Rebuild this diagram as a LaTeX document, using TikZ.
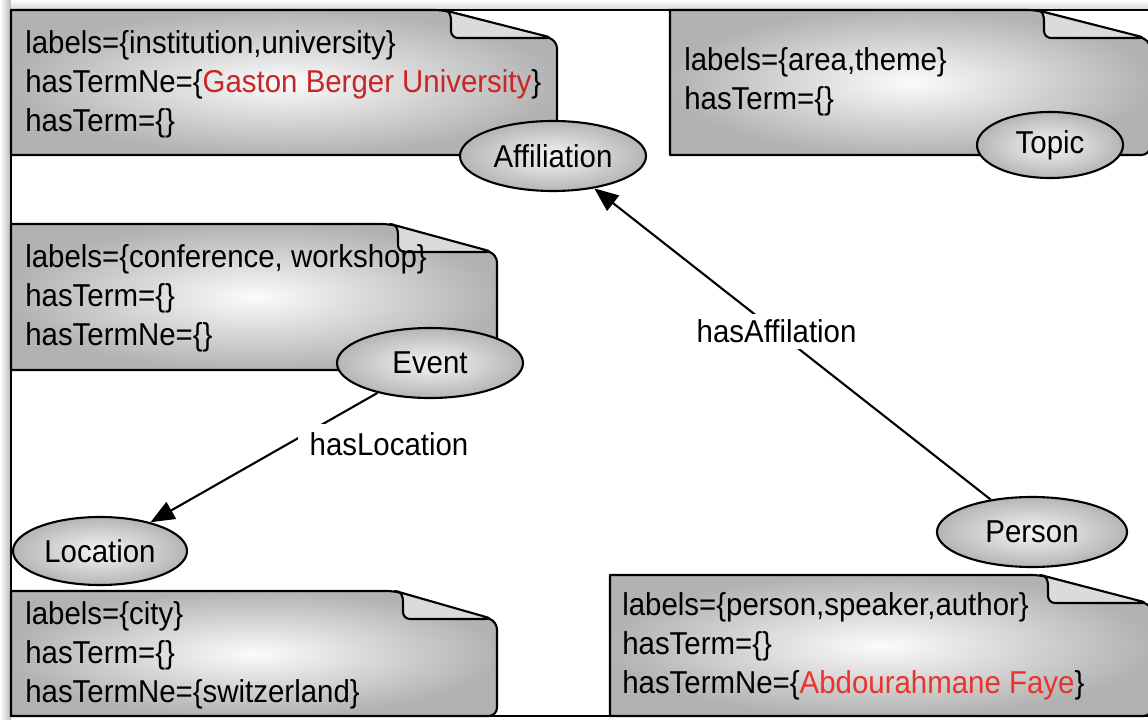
\documentclass[tikz,border=0pt]{standalone}
\usepackage{fontspec}
\setmainfont[FakeStretch=0.93]{Liberation Sans}
\usetikzlibrary{shapes.geometric,arrows.meta}

\definecolor{gbured}{RGB}{200,38,38}
\definecolor{afred}{RGB}{232,52,44}

\tikzset{
    note/.style={draw, line width=1.5pt, line join=round, inner color=gray!3, outer color=gray!60},
    flap/.style={draw, line width=1.5pt, line join=round, fill=gray!28},
    notetext/.style={anchor=west, align=left, inner sep=0pt, font=\fontsize{22.5}{27.8}\selectfont},
    concept/.style={ellipse, draw, line width=1.5pt, inner color=gray!8, outer color=gray!58,
        inner sep=0pt, font=\fontsize{22.5}{26}\selectfont},
    rel/.style={line width=1.5pt, -{Triangle[length=0.6cm,width=0.48cm]}},
    rellabel/.style={fill=white, inner sep=0.15cm, font=\fontsize{22.5}{26}\selectfont}
}

\begin{document}
\begin{tikzpicture}[x=0.025cm, y=-0.025cm]
    \useasboundingbox (0,0) rectangle (1148,720);
    \clip (0,0) rectangle (1148,720);
    % frame and its shadow
    \shade[left color=white, right color=gray!55] (0,0) rectangle (11,720);
    \shade[top color=white, bottom color=gray!35] (11,0) rectangle (1148,10);
    \draw[line width=1.7pt] (11,10) rectangle (1170,716);

    % notes
    \draw[note] (11,155) -- (11,10) [rounded corners=6pt] -- (443,10) -- (557,40) -- (557,155) [sharp corners] -- cycle;
    \path[flap] (443,10) .. controls (449,10) and (451,14) .. (451,22) [rounded corners=5pt] -- (451,38) -- (553,38) [sharp corners] -- cycle;
    \draw[note] (670,155) -- (670,10) [rounded corners=6pt] -- (1036,10) -- (1150,40) -- (1150,155) [sharp corners] -- cycle;
    \path[flap] (1036,10) .. controls (1042,10) and (1044,14) .. (1044,22) [rounded corners=5pt] -- (1044,38) -- (1146,38) [sharp corners] -- cycle;
    \draw[note] (11,370) -- (11,224) [rounded corners=6pt] -- (390,224) -- (497,254) -- (497,370) [sharp corners] -- cycle;
    \path[flap] (390,224) .. controls (396,224) and (398,228) .. (398,236) [rounded corners=5pt] -- (398,252) -- (493,252) [sharp corners] -- cycle;
    \draw[note] (11,716) -- (11,591) [rounded corners=6pt] -- (395,591) -- (497,621) -- (497,716) [sharp corners] -- cycle;
    \path[flap] (395,591) .. controls (401,591) and (403,595) .. (403,603) [rounded corners=5pt] -- (403,619) -- (493,619) [sharp corners] -- cycle;
    \draw[note] (610,716) -- (610,575) [rounded corners=6pt] -- (1040,575) -- (1152,605) -- (1152,716) [sharp corners] -- cycle;
    \path[flap] (1040,575) .. controls (1046,575) and (1048,579) .. (1048,587) [rounded corners=5pt] -- (1048,603) -- (1148,603) [sharp corners] -- cycle;

    \node[notetext] (afftext) at (25,84) {labels=\{institution,university\}\\hasTermNe=\{\textcolor{gbured}{Gaston Berger University}\}\\hasTerm=\{\}};
    \node[notetext] (toptext) at (684,82) {labels=\{area,theme\}\\hasTerm=\{\}};
    \node[notetext] (evttext) at (25,298) {labels=\{conference, workshop\}\\hasTerm=\{\}\\hasTermNe=\{\}};
    \node[notetext] (loctext) at (25,655) {labels=\{city\}\\hasTerm=\{\}\\hasTermNe=\{switzerland\}};
    \node[notetext] (pertext) at (622,646) {labels=\{person,speaker,author\}\\hasTerm=\{\}\\hasTermNe=\{\textcolor{afred}{Abdourahmane Faye}\}};

    % concepts
    \node[concept, minimum width=4.65cm, minimum height=1.75cm] (affiliation) at (553,156) {Affiliation};
    \node[concept, minimum width=3.65cm, minimum height=1.65cm] (topic) at (1050,145) {Topic};
    \node[concept, minimum width=4.65cm, minimum height=1.75cm] (event) at (430,363) {Event};
    \node[concept, minimum width=4.35cm, minimum height=1.7cm] (location) at (100,551) {Location};
    \node[concept, minimum width=4.75cm, minimum height=1.75cm] (person) at (1032,532) {Person};

    % relations
    \draw[rel] (person) -- (affiliation) node[rellabel, pos=0.54] {hasAffilation};
    \draw[rel] (event) -- (location);
    \node[rellabel, inner xsep=0.3cm, inner ysep=0.22cm] (loclabel) at (389,444) {hasLocation};
\end{tikzpicture}
\end{document}
